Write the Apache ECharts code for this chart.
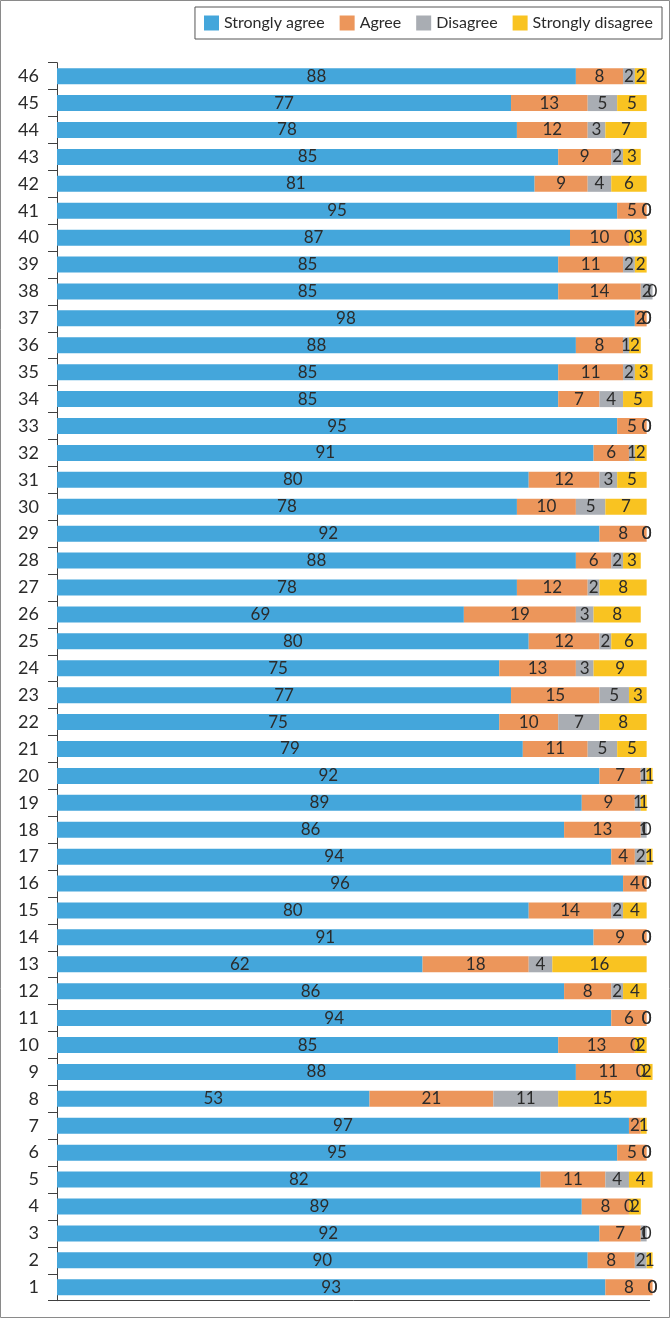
<!DOCTYPE html>
<html>
<head>
<meta charset="utf-8">
<script src="https://cdn.jsdelivr.net/npm/echarts@6/dist/echarts.min.js"></script>
<style>
html,body{margin:0;padding:0;background:#fff;}
#chart{width:670px;height:1318px;}
</style>
</head>
<body>
<div id="chart"></div>
<script>
// Items 1..46 (bottom to top)
const categories = ['1','2','3','4','5','6','7','8','9','10','11','12','13','14','15','16','17','18','19','20','21','22','23','24','25','26','27','28','29','30','31','32','33','34','35','36','37','38','39','40','41','42','43','44','45','46'];
const stronglyAgree = [93,90,92,89,82,95,97,53,88,85,94,86,62,91,80,96,94,86,89,92,79,75,77,75,80,69,78,88,92,78,80,91,95,85,85,88,98,85,85,87,95,81,85,78,77,88];
const agree = [8,8,7,8,11,5,2,21,11,13,6,8,18,9,14,4,4,13,9,7,11,10,15,13,12,19,12,6,8,10,12,6,5,7,11,8,2,14,11,10,5,9,9,12,13,8];
const disagree = [0,2,1,0,4,0,null,11,0,0,0,2,4,0,2,0,2,1,1,1,5,7,5,3,2,3,2,2,0,5,3,1,0,4,2,1,0,2,2,0,0,4,2,3,5,2];
const stronglyDisagree = [0,1,0,2,4,0,1,15,2,2,0,4,16,0,4,0,1,0,1,1,5,8,3,9,6,8,8,3,0,7,5,2,0,5,3,2,0,0,2,3,0,6,3,7,5,2];
const seriesNames = ['Strongly agree','Agree','Disagree','Strongly disagree'];
const colors = ['#44A6DB','#EC965B','#A9ADB3','#F9C321'];

const font = 'Lato, "Open Sans", sans-serif';
const chart = echarts.init(document.getElementById('chart'), null, {renderer:'canvas'});

function mk(name, data, color){
  return {
    name: name,
    type: 'bar',
    stack: 'total',
    data: data,
    barWidth: 16,
    clip: false,
    itemStyle: {color: color},
    label: {
      show: true,
      position: 'inside',
      color: '#2b2b2b',
      fontSize: 17,
      fontFamily: font,
      formatter: function(p){ return (p.value === null || p.value === undefined || p.value === '-') ? '' : String(p.value); }
    },
    emphasis: {disabled: true}
  };
}

chart.setOption({
  animation: false,
  backgroundColor: '#fff',
  color: colors,
  graphic: [{
    type: 'rect',
    shape: {x: 0.5, y: 0.5, width: 669, height: 1317},
    style: {fill: 'none', stroke: '#8a8a8a', lineWidth: 1},
    silent: true
  }],
  legend: {
    right: 8,
    top: 7,
    itemWidth: 15,
    itemHeight: 15,
    itemGap: 15,
    padding: [8, 9],
    borderColor: '#555',
    borderWidth: 1,
    icon: 'rect',
    textStyle: {fontSize: 16, fontFamily: font, color: '#2b2b2b'},
    data: seriesNames
  },
  grid: {left: 57, right: 20.4, top: 62.7, bottom: 17.3, containLabel: false},
  xAxis: {
    type: 'value',
    min: 0,
    max: 100.5,
    axisLabel: {show: false},
    splitLine: {show: false},
    axisTick: {show: false},
    axisLine: {show: true, lineStyle: {color: '#404040', width: 1}}
  },
  yAxis: {
    type: 'category',
    data: categories,
    axisLine: {show: true, lineStyle: {color: '#404040', width: 1}},
    axisTick: {show: true, length: 9, lineStyle: {color: '#404040'}},
    axisLabel: {fontSize: 18, fontFamily: font, color: '#2b2b2b', margin: 18}
  },
  series: [
    mk(seriesNames[0], stronglyAgree, colors[0]),
    mk(seriesNames[1], agree, colors[1]),
    mk(seriesNames[2], disagree, colors[2]),
    mk(seriesNames[3], stronglyDisagree, colors[3])
  ]
});
</script>
</body>
</html>
